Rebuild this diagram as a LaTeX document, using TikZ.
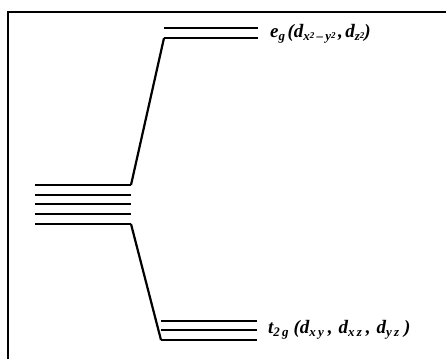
\documentclass[tikz,border=0pt]{standalone}
\usepackage{fontspec}
\setmainfont{Liberation Serif}
\newcommand\lsub[1]{\raisebox{-0.45ex}{\fontsize{13}{14}\selectfont\bfseries\itshape #1}}
\newcommand\lsup[1]{\raisebox{0.45ex}{\fontsize{9}{10}\selectfont\bfseries #1}}
\newcommand\gp{\hspace{2.5pt}}
\newcommand\gq{\hspace{5pt}}
\begin{document}
\begin{tikzpicture}[x=1pt,y=-1pt,
  level/.style={line width=1.9pt},
  link/.style={line width=2.2pt, line join=miter},
  frame/.style={line width=1.6pt},
  lbl/.style={anchor=base west, inner sep=0pt, font=\fontsize{19}{21}\selectfont\bfseries\itshape}]
\useasboundingbox (0,0) rectangle (447,359);
% frame
\coordinate (fb) at (8,359);
\coordinate (ft) at (8,12);
\coordinate (fr) at (446,12);
\draw[frame] (fb) -- (ft) -- (fr);
% left degenerate levels
\coordinate (l1a) at (35,185); \coordinate (l1b) at (131,185);
\coordinate (l2a) at (35,195); \coordinate (l2b) at (131,195);
\coordinate (l3a) at (35,204); \coordinate (l3b) at (131,204);
\coordinate (l4a) at (35,214); \coordinate (l4b) at (131,214);
\coordinate (l5a) at (35,224); \coordinate (l5b) at (131,224);
% eg levels
\coordinate (e1a) at (164,28); \coordinate (e1b) at (258,28);
\coordinate (e2a) at (164,38); \coordinate (e2b) at (258,38);
% t2g levels
\coordinate (t1a) at (161,321); \coordinate (t1b) at (257,321);
\coordinate (t2a) at (161,330); \coordinate (t2b) at (257,330);
\coordinate (t3a) at (161,340); \coordinate (t3b) at (257,340);
\draw[level] (l2a) -- (l2b);
\draw[level] (l3a) -- (l3b);
\draw[level] (l4a) -- (l4b);
\draw[level] (e1a) -- (e1b);
\draw[level] (t1a) -- (t1b);
\draw[level] (t2a) -- (t2b);
\draw[level] (l1a) -- (l1b);
\draw[link] (l1b) -- (e2a);
\draw[level] (e2a) -- (e2b);
\draw[level] (l5a) -- (l5b);
\draw[link] (l5b) -- (t3a);
\draw[level] (t3a) -- (t3b);
% labels
\node[lbl] (eg) at (270,37) {e\lsub{g}\gp(d\lsub{x\lsup{2}\,--\,y\lsup{2}}\gp,\gp d\lsub{z\lsup{2}})};
\node[lbl] (t2g) at (268,333) {t\lsub{2\,g}\gq(d\lsub{x\,y}\hspace{4pt},\hspace{6pt}d\lsub{x\,z}\hspace{4pt},\hspace{6pt}d\lsub{y\,z}\gq)};
\end{tikzpicture}
\end{document}
